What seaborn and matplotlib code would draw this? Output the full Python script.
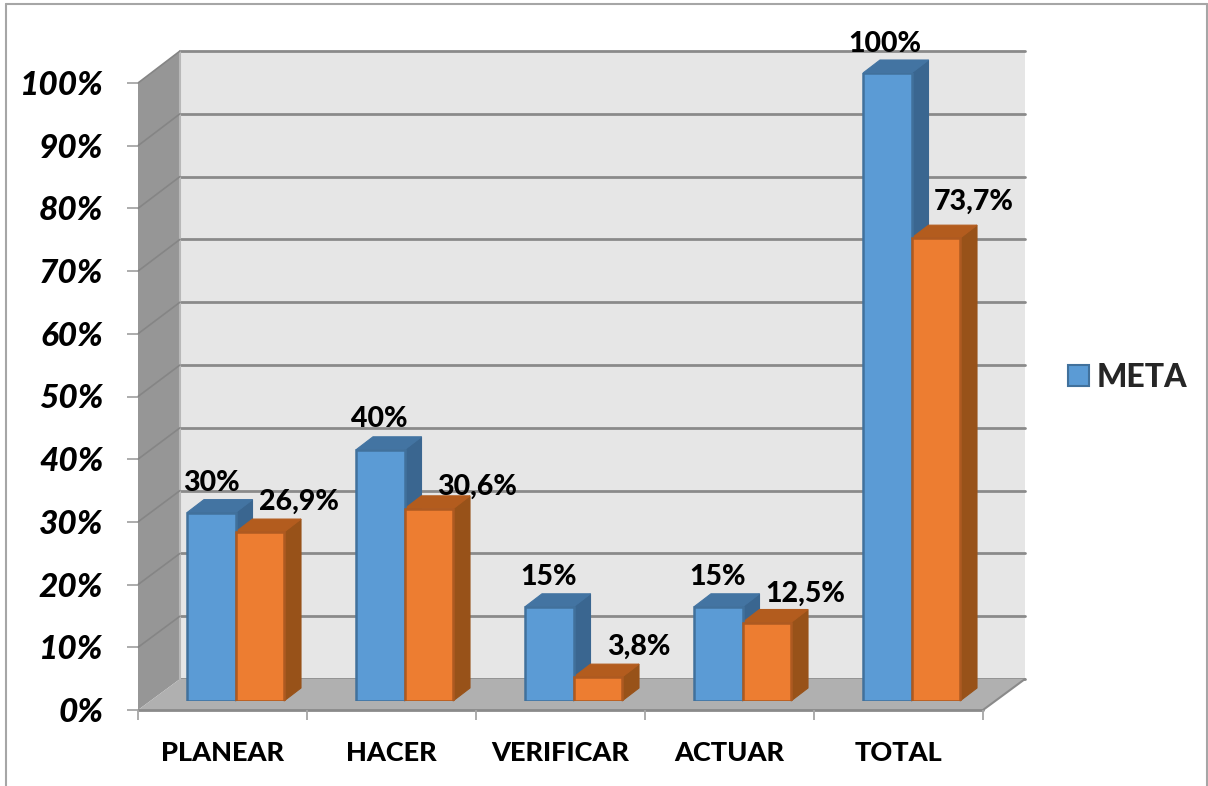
import matplotlib.pyplot as plt
import pandas as pd
import seaborn as sns
from matplotlib.lines import Line2D
from matplotlib.patches import Patch, Polygon
from matplotlib.transforms import IdentityTransform

categorias = ["PLANEAR", "HACER", "VERIFICAR", "ACTUAR", "TOTAL"]
meta = [30, 40, 15, 15, 100]
avance = [26.9, 30.6, 3.8, 12.5, 73.7]
meta_labels = ["30%", "40%", "15%", "15%", "100%"]
avance_labels = ["26,9%", "30,6%", "3,8%", "12,5%", "73,7%"]
y_ticks = list(range(0, 101, 10))

W, H = 1208, 786
AZUL, AZUL_BORDE, AZUL_LADO, AZUL_TOPE = "#5b9bd5", "#41719c", "#3a6690", "#4374a2"
NARANJA, NARANJA_BORDE, NARANJA_LADO, NARANJA_TOPE = "#ed7d31", "#ae5a21", "#985219", "#b35c1e"
GRIS_LINEA = "#8a8a8a"
GRIS_TICK = "#a6a6a6"
FUENTE = ["Lato", "DejaVu Sans"]
PESO = 900

sns.set_theme(style="white")
plt.rcParams["font.family"] = FUENTE

df = pd.DataFrame({
    "categoria": categorias * 2,
    "serie": ["META"] * 5 + ["AVANCE"] * 5,
    "valor": meta + avance,
})

fig = plt.figure(figsize=(W / 100, H / 100), dpi=100, facecolor="white")


def make_axes(left, right, top, bottom, z):
    # position is given in picture pixels
    a = fig.add_axes([left / W, 1 - bottom / H, (right - left) / W, (bottom - top) / H])
    a.set_zorder(z)
    a.set_xlim(-0.5, 4.5)
    a.set_ylim(0, 100)
    return a


# the fake 3d chart: back wall, front axis plane and the plane of the bars
ax_back = make_axes(180, 1025, 51, 679, 0)
ax_front = make_axes(138, 983, 83, 710, 1)
ax = make_axes(151, 996, 73, 701, 2)

# back wall and grid
ax_back.set_facecolor("#e6e6e6")
ax_back.set_yticks(y_ticks)
ax_back.set_xticks([])
ax_back.tick_params(left=False, labelleft=False)
ax_back.grid(axis="y", color=GRIS_LINEA, lw=2)
for line in ax_back.get_ygridlines():
    line.set_clip_on(False)
for s in ax_back.spines.values():
    s.set_visible(False)


def front_back(x, y):
    return ax_front.transData.transform((x, y)), ax_back.transData.transform((x, y))


def flat(points, color, z=1):
    ax_back.add_patch(Polygon(points, closed=True, facecolor=color, edgecolor="none",
                              transform=IdentityTransform(), clip_on=False, zorder=z))


def seg(p0, p1, color, lw, z=4):
    ax_back.add_line(Line2D([p0[0], p1[0]], [p0[1], p1[1]], color=color, lw=lw,
                            transform=IdentityTransform(), clip_on=False, zorder=z))


# left wall and floor
f0, b0 = front_back(-0.5, 0)
f1, b1 = front_back(-0.5, 100)
f2, b2 = front_back(4.5, 0)
flat([f0, b0, b1, f1], "#969696")
flat([f0, b0, b2, f2], "#b0b0b0")
seg(b0, b1, "#b8b8b8", 1.5)
seg(f0, f2, GRIS_LINEA, 2)
seg(f2, b2, GRIS_LINEA, 1.5)
for v in y_ticks[1:]:
    fv, bv = front_back(-0.5, v)
    seg(fv, bv, "#858585", 1.2)

# front plane carries the axis ticks and labels
ax_front.patch.set_alpha(0)
for s in ax_front.spines.values():
    s.set_visible(False)
ax_front.set_yticks(y_ticks)
ax_front.set_yticklabels([f"{v}%" for v in y_ticks], fontsize=24, fontweight=PESO,
                         fontstyle="italic", color="black")
ax_front.tick_params(axis="y", left=True, length=8, width=1.3, color=GRIS_TICK, pad=17)
ax_front.set_xticks([i - 0.5 for i in range(6)])
ax_front.set_xticklabels([])
ax_front.tick_params(axis="x", which="major", bottom=True, length=7, width=1.3, color=GRIS_TICK)
ax_front.set_xticks(range(5), minor=True)
ax_front.set_xticklabels(categorias, minor=True, fontsize=19.5, fontweight=PESO, color="black")
ax_front.tick_params(axis="x", which="minor", bottom=False, length=0, pad=22)

# bars
sns.barplot(data=df, x="categoria", y="valor", hue="serie", order=categorias,
            hue_order=["META", "AVANCE"], palette=[AZUL, NARANJA], width=0.574, gap=0,
            saturation=1, legend=False, ax=ax)
ax.set_xlim(-0.5, 4.5)
ax.set_ylim(0, 100)
ax.patch.set_alpha(0)
ax.set_xlabel("")
ax.set_ylabel("")
ax.set_xticks([])
ax.set_yticks([])
for s in ax.spines.values():
    s.set_visible(False)

DX, DY = 17, 13  # depth of the bars, pixels
estilos = [(AZUL_BORDE, AZUL_LADO, AZUL_TOPE, 2.0), (NARANJA_BORDE, NARANJA_LADO, NARANJA_TOPE, 2.1)]
for cont, (borde, lado, tope, z) in zip(ax.containers, estilos):
    for bar in cont:
        bar.set_edgecolor(borde)
        bar.set_linewidth(1.8)
        bar.set_zorder(3)
        x0, x1 = bar.get_x(), bar.get_x() + bar.get_width()
        p10 = ax.transData.transform((x1, 0))
        p01 = ax.transData.transform((x0, bar.get_height()))
        p11 = ax.transData.transform((x1, bar.get_height()))
        d = (DX, DY)
        ax.add_patch(Polygon([p10, p11, p11 + d, p10 + d], facecolor=lado, edgecolor=lado, lw=0.8,
                             transform=IdentityTransform(), clip_on=False, zorder=z))
        ax.add_patch(Polygon([p01, p11, p11 + d, p01 + d], facecolor=tope, edgecolor=tope, lw=0.8,
                             transform=IdentityTransform(), clip_on=False, zorder=z))

# data labels, moved by hand in the original
meta_off = [(0, 30), (-1, 31), (-1, 30), (-1, 30), (-2, 29)]
avance_off = [(39, 30), (48, 22), (41, 30), (38, 29), (38, 36)]
grupos = [(meta_labels, meta_off), (avance_labels, avance_off)]
for cont, (textos, offs) in zip(ax.containers, grupos):
    for bar, t, off in zip(cont, textos, offs):
        ax.annotate(t, (bar.get_x() + bar.get_width() / 2, bar.get_height()), xytext=off,
                    textcoords="offset pixels", ha="center", va="center", fontsize=20.5,
                    fontweight=PESO, color="black", annotation_clip=False, zorder=6)

# only META is in the legend of the original
ax.legend(handles=[Patch(facecolor=AZUL, edgecolor=AZUL_BORDE, lw=1.5, label="META")],
          loc="center left", bbox_to_anchor=(1052 / W, 1 - 377 / H),
          bbox_transform=fig.transFigure, frameon=False,
          prop={"family": FUENTE, "weight": PESO, "size": 23},
          handlelength=0.65, handleheight=0.65, handletextpad=0.25, borderpad=0, borderaxespad=0.5)

# chart border, open at the bottom
for xs, ys in [((5.5, 5.5), (786, 4)), ((5.5, 1207), (4, 4)), ((1207, 1207), (4, 786))]:
    fig.add_artist(Line2D([x / W for x in xs], [1 - y / H for y in ys], color=GRIS_TICK, lw=1.5))

plt.savefig("out.png", dpi=100)
